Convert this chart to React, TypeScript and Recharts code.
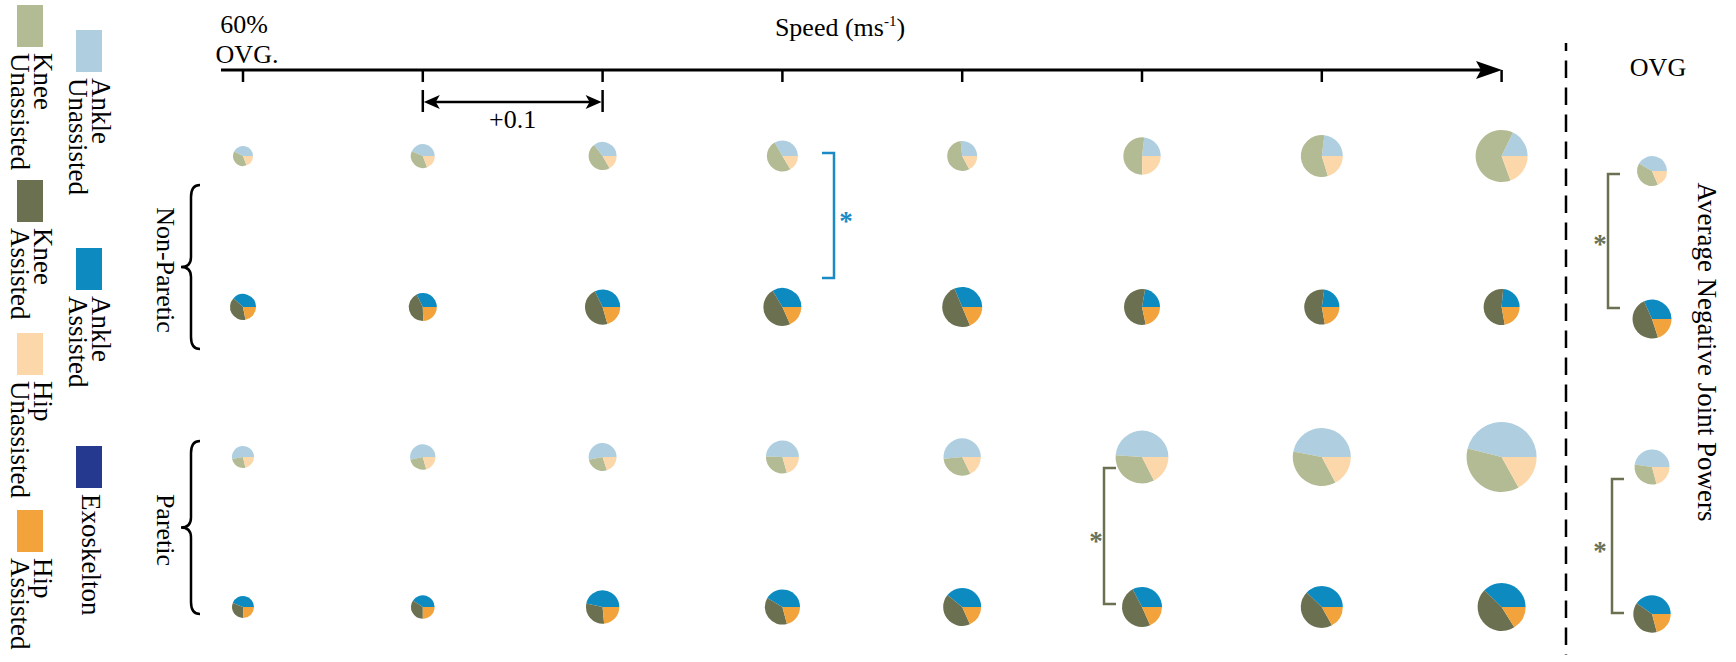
import { PieChart, Pie, Cell } from 'recharts';

// speed increments above 60% of over-ground speed (m/s)
const speedSteps = [0, 0.1, 0.2, 0.3, 0.4, 0.5, 0.6, 0.7];
const joints = ['Ankle', 'Knee', 'Hip'];

// average negative joint power per condition, [ankle, knee, hip]
const nonPareticUnassisted = [
  [1.7, 1.53, 0.77],
  [2.51, 2.14, 1.1],
  [2.79, 3.75, 1.31],
  [3.2, 4.83, 1.58],
  [2.4, 5.05, 1.55],
  [3.23, 7.31, 3.46],
  [4.07, 10.0, 3.58],
  [4.81, 16.97, 5.26],
];
const nonPareticAssisted = [
  [2.57, 2.7, 1.48],
  [2.53, 3.4, 1.92],
  [3.99, 5.85, 2.55],
  [4.85, 6.94, 2.65],
  [5.02, 8.0, 2.98],
  [2.88, 7.27, 2.81],
  [2.82, 6.81, 2.75],
  [3.06, 7.02, 2.88],
];
const pareticUnassisted = [
  [2.57, 1.24, 1.04],
  [3.44, 1.68, 1.33],
  [4.16, 2.11, 1.57],
  [5.38, 3.27, 2.24],
  [7.19, 4.31, 2.49],
  [13.63, 9.37, 4.88],
  [15.79, 12.05, 5.79],
  [22.59, 18.1, 8.3],
];
const pareticAssisted = [
  [2.12, 1.53, 1.18],
  [2.26, 1.92, 1.39],
  [5.21, 3.32, 2.63],
  [5.13, 4.68, 2.58],
  [5.66, 6.14, 2.65],
  [5.24, 7.82, 2.93],
  [6.66, 7.99, 2.99],
  [8.7, 10.62, 3.71],
];

// over-ground walking, [ankle, knee, hip]
const nonPareticUnassistedOvg = [3.75, 3.58, 1.67];
const nonPareticAssistedOvg = [4.82, 7.35, 3.04];
const pareticUnassistedOvg = [5.85, 3.85, 2.55];
const pareticAssistedOvg = [5.63, 5.44, 2.91];

const unassistedColors = ['#afcfe1', '#b3bb94', '#fcd7aa'];
const assistedColors = ['#0d8bc0', '#6b7150', '#f2a33b'];
const exoColor = '#253a8e';
const olive = '#6b7150';
const blue = '#1a8ac6';

const W = 1736;
const H = 662;
const FONT = "'Liberation Serif', 'Times New Roman', serif";

const speedX = (s: number) => 243 + s * 1798;
const OVG_X = 1652;
// pie area grows with total power
const radiusOf = (v: number[]) => 5 * Math.sqrt(v.reduce((a, b) => a + b, 0));

const rows = [
  { id: 'npu', values: nonPareticUnassisted, ovg: nonPareticUnassistedOvg, colors: unassistedColors, cy: 156, ovgCy: 171 },
  { id: 'npa', values: nonPareticAssisted, ovg: nonPareticAssistedOvg, colors: assistedColors, cy: 307, ovgCy: 319 },
  { id: 'pu', values: pareticUnassisted, ovg: pareticUnassistedOvg, colors: unassistedColors, cy: 457, ovgCy: 467 },
  { id: 'pa', values: pareticAssisted, ovg: pareticAssistedOvg, colors: assistedColors, cy: 607, ovgCy: 614 },
];

const legendItems = [
  { lines: ['Knee', 'Unassisted'], color: unassistedColors[1], x: 17, y: 5, base: [34, 11] },
  { lines: ['Knee', 'Assisted'], color: assistedColors[1], x: 17, y: 180, base: [34, 11] },
  { lines: ['Hip', 'Unassisted'], color: unassistedColors[2], x: 17, y: 333, base: [34, 11] },
  { lines: ['Hip', 'Assisted'], color: assistedColors[2], x: 17, y: 510, base: [34, 11] },
  { lines: ['Ankle', 'Unassisted'], color: unassistedColors[0], x: 76, y: 30, base: [92, 69] },
  { lines: ['Ankle', 'Assisted'], color: assistedColors[0], x: 76, y: 248, base: [92, 69] },
  { lines: ['Exoskelton'], color: exoColor, x: 76, y: 446, base: [82] },
];

function renderPie(key: string, vals: number[], colors: string[], cx: number, cy: number) {
  const data = joints.map((name, i) => ({ name, value: vals[i] }));
  return (
    <Pie
      key={key}
      data={data}
      dataKey="value"
      nameKey="name"
      cx={cx}
      cy={cy}
      outerRadius={radiusOf(vals)}
      startAngle={0}
      endAngle={360}
      stroke="none"
      isAnimationActive={false}
    >
      {data.map((d, i) => (
        <Cell key={d.name} fill={colors[i]} />
      ))}
    </Pie>
  );
}

// vertical text reading top to bottom
const VText = ({ x, y, children, size = 26, anchor = 'start' }: any) => (
  <text
    x={x}
    y={y}
    transform={`rotate(90 ${x} ${y})`}
    fontSize={size}
    fontFamily={FONT}
    textAnchor={anchor}
    fill="#000"
  >
    {children}
  </text>
);

// curly brace opening to the right
const bracePath = (top: number, bottom: number) => {
  const mid = (top + bottom) / 2;
  const xr = 200;
  const xs = 191;
  const xl = 181;
  return `M${xr},${top} Q${xs},${top} ${xs},${top + 12} L${xs},${mid - 10} Q${xs},${mid} ${xl},${mid} Q${xs},${mid} ${xs},${mid + 10} L${xs},${bottom - 12} Q${xs},${bottom} ${xr},${bottom}`;
};

// significance bracket; open side points toward dir
const Bracket = ({ x, y1, y2, dir, color }: any) => (
  <path
    d={`M${x + dir * 12},${y1} L${x},${y1} L${x},${y2} L${x + dir * 12},${y2}`}
    fill="none"
    stroke={color}
    strokeWidth={2.5}
  />
);

const Star = ({ x, y, color }: any) => (
  <text x={x} y={y + 13} fontSize={27} fontWeight="bold" fontFamily={FONT} fill={color} textAnchor="middle">
    *
  </text>
);

export default function App() {
  return (
    <div style={{ position: 'absolute', left: 0, top: 0, width: W, height: H, background: '#fff' }}>
      <PieChart width={W} height={H} margin={{ top: 0, right: 0, bottom: 0, left: 0 }}>
        {rows.flatMap((row) => [
          ...row.values.map((v, i) => renderPie(`${row.id}-${i}`, v, row.colors, speedX(speedSteps[i]), row.cy)),
          renderPie(`${row.id}-ovg`, row.ovg, row.colors, OVG_X, row.ovgCy),
        ])}
      </PieChart>

      <svg
        width={W}
        height={H}
        style={{ position: 'absolute', left: 0, top: 0, pointerEvents: 'none' }}
      >
        {/* legend */}
        {legendItems.map((item) => (
          <g key={item.lines.join(' ')}>
            <rect x={item.x} y={item.y} width={26} height={42} fill={item.color} />
            {item.lines.map((line, i) => (
              <VText key={line} x={item.base[i]} y={item.y + 48} size={27}>
                {line}
              </VText>
            ))}
          </g>
        ))}

        {/* group braces */}
        <path d={bracePath(185, 349)} fill="none" stroke="#000" strokeWidth={2.5} />
        <path d={bracePath(441, 614)} fill="none" stroke="#000" strokeWidth={2.5} />
        <VText x={157} y={270} anchor="middle">Non-Paretic</VText>
        <VText x={157} y={530} anchor="middle">Paretic</VText>

        {/* speed axis */}
        <text x={244} y={33} fontSize={26} fontFamily={FONT} textAnchor="middle">60%</text>
        <text x={247} y={63} fontSize={26} fontFamily={FONT} textAnchor="middle">OVG.</text>
        <text x={840} y={36} fontSize={26} fontFamily={FONT} textAnchor="middle">
          Speed (ms<tspan fontSize={15} dy={-10}>-1</tspan><tspan dy={10}>)</tspan>
        </text>
        <line x1={221} y1={70} x2={1485} y2={70} stroke="#000" strokeWidth={3} />
        <path d="M1476,61 L1502,70 L1476,79 L1481,70 Z" fill="#000" />
        {speedSteps.map((s) => (
          <line key={s} x1={speedX(s)} y1={70} x2={speedX(s)} y2={82} stroke="#000" strokeWidth={2.5} />
        ))}

        {/* +0.1 increment */}
        <line x1={speedX(0.1)} y1={90} x2={speedX(0.1)} y2={112} stroke="#000" strokeWidth={2.5} />
        <line x1={speedX(0.2)} y1={90} x2={speedX(0.2)} y2={112} stroke="#000" strokeWidth={2.5} />
        <line x1={speedX(0.1) + 8} y1={102} x2={speedX(0.2) - 8} y2={102} stroke="#000" strokeWidth={2.5} />
        <path
          d={`M${speedX(0.1) + 1},102 L${speedX(0.1) + 17},95 L${speedX(0.1) + 13},102 L${speedX(0.1) + 17},109 Z`}
          fill="#000"
        />
        <path
          d={`M${speedX(0.2) - 1},102 L${speedX(0.2) - 17},95 L${speedX(0.2) - 13},102 L${speedX(0.2) - 17},109 Z`}
          fill="#000"
        />
        <text x={(speedX(0.1) + speedX(0.2)) / 2} y={128} fontSize={26} fontFamily={FONT} textAnchor="middle">
          +0.1
        </text>

        {/* over-ground column */}
        <line x1={1566} y1={43} x2={1566} y2={655} stroke="#000" strokeWidth={2.5} strokeDasharray="17.5 9.5" strokeDashoffset={9.5} />
        <text x={1658} y={76} fontSize={26} fontFamily={FONT} textAnchor="middle">OVG</text>
        <VText x={1698} y={352} anchor="middle" size={27}>Average Negative Joint Powers</VText>

        {/* significance */}
        <Bracket x={834} y1={153} y2={278} dir={-1} color={blue} />
        <Star x={846} y={217} color={blue} />
        <Bracket x={1104} y1={468} y2={604} dir={1} color={olive} />
        <Star x={1096} y={537} color={olive} />
        <Bracket x={1608} y1={174} y2={308} dir={1} color={olive} />
        <Star x={1600} y={240} color={olive} />
        <Bracket x={1612} y1={479} y2={613} dir={1} color={olive} />
        <Star x={1600} y={547} color={olive} />
      </svg>
    </div>
  );
}
